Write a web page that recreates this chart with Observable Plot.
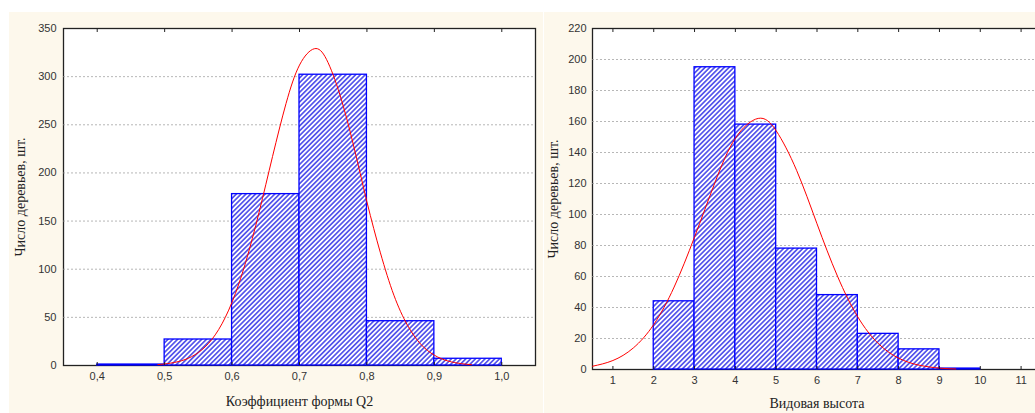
<!DOCTYPE html>
<html><head><meta charset="utf-8">
<script src="https://cdn.jsdelivr.net/npm/d3@7"></script>
<script src="https://cdn.jsdelivr.net/npm/@observablehq/plot@0.6"></script>
<style>
html,body{margin:0;padding:0;background:#fff;overflow:hidden;}
#wrap{position:relative;width:1035px;height:413px;overflow:hidden;background:#fff;}
.panel{position:absolute;top:12px;height:401px;background:#fdf8ec;}
#left,#right{position:absolute;top:0;}
#left svg,#right svg{max-width:none;}
</style></head><body>
<div id="wrap">
<svg width="0" height="0" style="position:absolute"><defs>
<pattern id="hatch" patternUnits="userSpaceOnUse" width="3.4" height="3.4" patternTransform="rotate(45)">
<rect width="3.4" height="3.4" fill="#ffffff"/>
<line x1="1.7" y1="-1" x2="1.7" y2="4.4" stroke="#2a2ae6" stroke-width="1.35"/>
</pattern></defs></svg>
<div class="panel" style="left:9px;width:534px"></div>
<div class="panel" style="left:544px;width:491px"></div>
<div id="left" style="left:0;width:545px"></div>
<div id="right" style="left:544px;width:510px"></div>
</div>
<script>
// ---- Left chart: Коэффициент формы Q2 ----
const binStartL = [0.4, 0.5, 0.6, 0.7, 0.8, 0.9];
const binEndL   = [0.5, 0.6, 0.7, 0.8, 0.9, 1.0];
const countsL   = [1, 27, 178, 302, 46, 7];
const curveXL = [0.49, 0.50, 0.52, 0.54, 0.56, 0.58, 0.60, 0.62, 0.64, 0.66, 0.68, 0.70, 0.722, 0.74, 0.76, 0.78, 0.80, 0.82, 0.84, 0.86, 0.88, 0.90, 0.92, 0.94, 0.955];
const curveYL = [1.0, 1.6, 4.0, 9.2, 19.3, 37.2, 65.8, 106.8, 159, 217, 272, 312, 329, 318, 281, 229, 170, 117, 73, 42, 22, 10.7, 4.7, 1.9, 0.9];
const xTicksL = [0.4, 0.5, 0.6, 0.7, 0.8, 0.9, 1.0];
const xTickLabelsL = ["0,4", "0,5", "0,6", "0,7", "0,8", "0,9", "1,0"];
const yTicksL = [0, 50, 100, 150, 200, 250, 300, 350];
const gridL = [50, 100, 150, 200, 250, 300];
const xTitleL = "Коэффициент формы Q2";
const yTitleL = "Число деревьев, шт.";

// ---- Right chart: Видовая высота ----
const binStartR = [2, 3, 4, 5, 6, 7, 8, 9];
const binEndR   = [3, 4, 5, 6, 7, 8, 9, 10];
const countsR   = [44, 195, 158, 78, 48, 23, 13, 0.6];
const curveXR = [0.5, 1.0, 1.5, 2.0, 2.5, 3.0, 3.5, 4.0, 4.56, 5.0, 5.5, 6.0, 6.5, 7.0, 7.5, 8.0, 8.5, 9.0, 9.4];
const curveYR = [2.1, 5.8, 13.9, 29, 53.2, 85.5, 120.6, 149.2, 162, 154, 128.5, 94, 60.3, 33.9, 16.8, 7.3, 2.8, 0.9, 0.35];
const xTicksR = [1, 2, 3, 4, 5, 6, 7, 8, 9, 10, 11];
const xTickLabelsR = ["1", "2", "3", "4", "5", "6", "7", "8", "9", "10", "11"];
const yTicksR = [0, 20, 40, 60, 80, 100, 120, 140, 160, 180, 200, 220];
const gridR = [20, 40, 60, 80, 100, 120, 140, 160, 180, 200];
const xTitleR = "Видовая высота";
const yTitleR = "Число деревьев, шт.";

const serif = "'Liberation Serif', 'Times New Roman', serif";

function chart(o) {
  const bars = o.starts.map((s, i) => ({x1: s, x2: o.ends[i], y: o.counts[i]}));
  const curve = o.cx.map((x, i) => ({x, y: o.cy[i]}));
  return Plot.plot({
    width: o.width, height: 413,
    marginLeft: o.ml, marginRight: o.mr, marginTop: 28, marginBottom: o.mb,
    x: {domain: o.xdom},
    y: {domain: o.ydom},
    style: {background: "transparent", fontFamily: "'Liberation Sans', Arial, sans-serif", fontSize: "11px", color: "#333", overflow: "visible", maxWidth: "none"},
    marks: [
      Plot.frame({fill: "white", stroke: "#222", strokeWidth: 1.3}),
      Plot.gridY(o.grid, {stroke: "#999", strokeOpacity: 0.7, strokeDasharray: "2,2"}),
      Plot.rectY(bars, {x1: "x1", x2: "x2", y: "y", fill: "url(#hatch)", stroke: "#0000ff", strokeWidth: 1.3}),
      Plot.line(curve, {x: "x", y: "y", stroke: "#ff0000", strokeWidth: 1, curve: "natural"}),
      Plot.axisX(o.xticks, {anchor: "bottom", tickSize: 0, tickPadding: 7, label: null,
        tickFormat: d => o.xlabels[o.xticks.indexOf(d)]}),
      Plot.axisX(o.xticks, {anchor: "top", tickSize: 3, insetTop: 3, label: null, tickFormat: () => "", stroke: "#222"}),
      Plot.axisX(o.xticks, {anchor: "bottom", tickSize: 3, insetBottom: 3, label: null, tickFormat: () => "", stroke: "#222"}),
      Plot.axisY(o.yticks, {anchor: "left", tickSize: 0, tickPadding: o.ypad, label: null}),
      Plot.text([o.xtitle], {text: d => d, frameAnchor: "bottom", dy: o.xtdy, textAnchor: "middle", lineAnchor: "middle",
        fontFamily: serif, fontSize: 14, fill: "#222"}),
      Plot.text([o.ytitle], {text: d => d, frameAnchor: "left", dx: o.ytdx, rotate: -90, textAnchor: "middle", lineAnchor: "middle",
        fontFamily: serif, fontSize: 14, fill: "#222"})
    ]
  });
}

document.getElementById("left").appendChild(chart({
  starts: binStartL, ends: binEndL, counts: countsL, cx: curveXL, cy: curveYL,
  xticks: xTicksL, xlabels: xTickLabelsL, yticks: yTicksL, grid: gridL,
  xtitle: xTitleL, ytitle: yTitleL,
  width: 545, ml: 63, mr: 10, mb: 48, xdom: [0.35, 1.05], ydom: [0, 350],
  ypad: 7, xtdy: 36, ytdx: -43
}));

document.getElementById("right").appendChild(chart({
  starts: binStartR, ends: binEndR, counts: countsR, cx: curveXR, cy: curveYR,
  xticks: xTicksR, xlabels: xTickLabelsR, yticks: yTicksR, grid: gridR,
  xtitle: xTitleR, ytitle: yTitleR,
  width: 510, ml: 48, mr: 13, mb: 44, xdom: [0.5, 11.5], ydom: [0, 220],
  ypad: 6, xtdy: 34, ytdx: -39
}));
</script>
</body></html>
